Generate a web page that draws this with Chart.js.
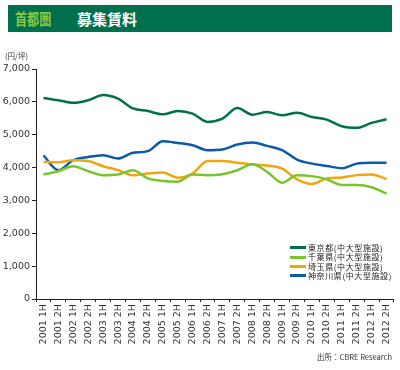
<!DOCTYPE html>
<html><head><meta charset="utf-8">
<script src="https://cdn.jsdelivr.net/npm/chart.js@4"></script>
<style>
html,body{margin:0;padding:0;background:#fff;}
#wrap{position:relative;width:400px;height:370px;overflow:hidden;font-family:"Noto Sans CJK JP","DejaVu Sans",sans-serif;}
#bar{position:absolute;left:8px;top:5px;width:384px;height:27px;background:#006f4e;}
#t1{position:absolute;left:15px;top:5px;height:27px;line-height:27px;font-size:15.5px;font-weight:bold;color:#8dc63f;transform:scaleX(0.78);transform-origin:left center;}
#t2{position:absolute;left:77px;top:5px;height:27px;line-height:27px;font-size:15px;font-weight:bold;color:#fff;}
#unit{position:absolute;left:5px;top:50px;font-size:7.5px;color:#333;}
#src{position:absolute;right:8px;top:351px;font-size:7.5px;color:#333;}
#legend{position:absolute;left:290px;top:243px;font-size:8px;color:#222;letter-spacing:0.6px;}
.row{height:9.4px;line-height:9.4px;white-space:nowrap;display:flex;align-items:center;}
.sw{display:inline-block;width:16px;height:3px;margin-right:2px;}
canvas{position:absolute;left:0;top:0;}
</style></head>
<body><div id="wrap">
<canvas id="c" width="400" height="370"></canvas>
<div id="bar"></div><div id="t1">首都圏</div><div id="t2">募集賃料</div>
<div id="unit">(円/坪)</div>
<div id="legend"></div>
<div id="src">出所：CBRE Research</div>
</div>
<script>
const categories = ["2001 1H","2001 2H","2002 1H","2002 2H","2003 1H","2003 2H","2004 1H","2004 2H","2005 1H","2005 2H","2006 1H","2006 2H","2007 1H","2007 2H","2008 1H","2008 2H","2009 1H","2009 2H","2010 1H","2010 2H","2011 1H","2011 2H","2012 1H","2012 2H"];
const seriesNames = ["東京都(中大型施設)","千葉県(中大型施設)","埼玉県(中大型施設)","神奈川県(中大型施設)"];
const tokyo    = [6120,6050,5970,6050,6210,6100,5800,5720,5620,5720,5640,5390,5490,5810,5610,5690,5590,5670,5540,5460,5260,5210,5360,5470];
const chiba    = [3790,3890,4040,3890,3770,3790,3920,3670,3590,3570,3790,3770,3800,3920,4100,3870,3540,3770,3740,3640,3470,3470,3400,3210];
const saitama  = [4170,4160,4225,4200,4040,3920,3770,3820,3850,3690,3820,4200,4200,4150,4100,4060,3970,3640,3500,3670,3700,3770,3790,3650];
const kanagawa = [4370,3920,4225,4325,4377,4275,4450,4500,4800,4750,4680,4530,4550,4700,4760,4660,4530,4245,4120,4050,3980,4120,4150,4150];
const yTicks = [0,1000,2000,3000,4000,5000,6000,7000];
const colors = ["#00704f","#7ac52e","#eea711","#0d5aa7"];

const values = [tokyo, chiba, saitama, kanagawa];
const lg = document.getElementById('legend');
seriesNames.forEach((n,i)=>{
  const r=document.createElement('div');r.className='row';
  r.innerHTML='<span class="sw" style="background:'+colors[i]+'"></span><span>'+n+'</span>';
  lg.appendChild(r);
});

new Chart(document.getElementById('c'), {
  type:'line',
  data:{labels:categories, datasets: values.map((v,i)=>({label:seriesNames[i],data:v,borderColor:colors[i],backgroundColor:colors[i],borderWidth:2.5,pointRadius:0,tension:0.4,cubicInterpolationMode:'monotone',fill:false}))},
  options:{
    responsive:false, animation:false,
    layout:{padding:{top:69,right:4.5,left:0,bottom:0}},
    plugins:{legend:{display:false},tooltip:{enabled:false}},
    scales:{
      x:{offset:true,
        grid:{display:true,drawOnChartArea:false,drawTicks:true,tickLength:3,color:'#222',offset:true},
        border:{display:true,color:'#222',width:1},
        ticks:{minRotation:90,maxRotation:90,autoSkip:false,padding:2,color:'#333',font:{family:'"DejaVu Sans", sans-serif',size:9.5}},
        afterFit:(s)=>{s.height=71;}
      },
      y:{min:0,max:7000,
        afterBuildTicks:(s)=>{s.ticks=yTicks.map(v=>({value:v}));},
        grid:{display:true,drawOnChartArea:false,drawTicks:true,tickLength:4,color:'#222'},
        border:{display:true,color:'#222',width:1},
        ticks:{padding:2,color:'#333',font:{family:'"DejaVu Sans", sans-serif',size:9.5},callback:(v)=>v.toLocaleString('en-US')},
        afterFit:(s)=>{s.width=36;}
      }
    }
  }
});
</script>
</body></html>
